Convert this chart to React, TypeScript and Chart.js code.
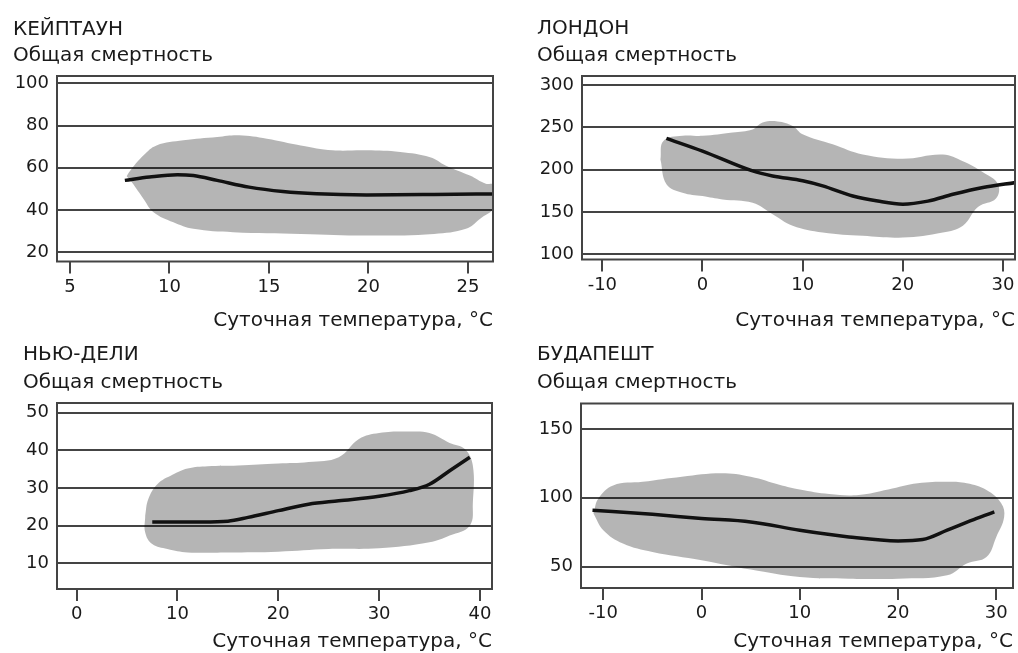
import React, { useEffect, useRef } from "react";
import { Chart, registerables } from "chart.js";

Chart.register(...registerables);

// ---------- texts ----------
const cityNames = ["КЕЙПТАУН", "ЛОНДОН", "НЬЮ-ДЕЛИ", "БУДАПЕШТ"];
const yAxisTitle = "Общая смертность";
const xAxisTitle = "Суточная температура, °C";

// ---------- Cape Town ----------
const capeXTicks = [5, 10, 15, 20, 25];
const capeYTicks = [20, 40, 60, 80, 100];
const capeLineX = [7.76, 9, 10.4, 11.2, 12.4, 14, 15.7, 17.4, 19.9, 23.3, 26.4];
const capeLineY = [54, 55.6, 56.7, 56.3, 54, 50.8, 48.7, 47.6, 47.1, 47.3, 47.6];
const capeCloudX = [7.85, 8.1, 8.7, 9.35, 10.7, 12.4, 13.5, 14.9, 16.6, 18.2, 19.9, 21.6, 23.1, 23.9, 25.1, 25.9, 26.4,
  26.4, 25.6, 24.9, 23.3, 19.9, 16.6, 13.2, 11.2, 10.2, 9.2, 8.7, 8.1, 7.85];
const capeCloudY = [56, 59.5, 65.9, 70.6, 73, 74.6, 75.4, 73.8, 70.6, 68.3, 68.3, 67.5, 65, 61, 56.3, 52.4, 52,
  42, 35.7, 31, 28.6, 27.8, 28.6, 29.4, 31, 34.1, 38.9, 45.2, 53.2, 56];

// ---------- London ----------
const londonXTicks = [-10, 0, 10, 20, 30];
const londonYTicks = [100, 150, 200, 250, 300];
const londonLineX = [-3.6, 0, 5, 7, 10, 12, 15, 17.5, 20, 22.5, 25, 28, 31.3];
const londonLineY = [237, 222, 198.6, 192.7, 187, 181, 169, 163, 159.4, 163, 171, 179, 185];
const londonCloudX = [-4.2, -3.9, -2, 0, 3, 5, 6, 7.5, 9, 10, 13, 16, 20, 24, 26, 28, 29.5,
  29.3, 27.5, 26, 24, 20, 16, 12, 9, 7, 5, 2, 0, -2, -3.6, -4.2];
const londonCloudY = [212, 234, 240, 240, 244, 247.6, 255.6, 257, 251.6, 241.8, 230, 218, 213, 218, 210, 197, 183,
  166, 156, 134, 126, 120, 122, 126, 134, 147.6, 161, 165, 169, 173, 183, 212];

// ---------- New Delhi ----------
const delhiXTicks = [0, 10, 20, 30, 40];
const delhiYTicks = [10, 20, 30, 40, 50];
const delhiLineX = [7.5, 10, 12.5, 15, 17, 20, 23, 26, 30, 33, 35, 37, 39];
const delhiLineY = [21, 21, 21, 21.2, 22.2, 24, 25.7, 26.6, 27.8, 29.3, 31, 34.6, 38.2];
const delhiCloudX = [6.8, 7.1, 8, 9.5, 11, 13, 16, 20, 23, 26, 28, 30, 33, 35, 37, 38.5, 39.3,
  39.3, 39, 37, 35, 30, 25, 20, 15, 11, 9, 7.5, 6.8, 6.8];
const delhiCloudY = [22.7, 27, 31, 33.5, 35.2, 35.8, 36, 36.5, 36.9, 38.2, 43, 44.6, 45, 44.6, 42, 40.4, 36,
  26, 20, 17.4, 15.6, 14, 13.8, 13.1, 12.9, 12.9, 13.8, 15.1, 18.2, 22.7];

// ---------- Budapest ----------
const budaXTicks = [-10, 0, 10, 20, 30];
const budaYTicks = [50, 100, 150];
const budaLineX = [-11.1, -5, 0, 5, 10, 15, 20, 22.5, 25, 28, 29.8];
const budaLineY = [91, 88, 85, 82.5, 76.5, 71.6, 68.7, 69.7, 76.5, 85, 89.8];
const budaCloudX = [-11, -10.5, -9, -6, -2, 2, 5, 8, 10, 13, 16, 19, 22, 25, 27, 29, 30.5, 30.8,
  30, 29, 27, 25, 20, 15, 10, 5, 0, -5, -8, -10, -11];
const budaCloudY = [88.6, 99.5, 109, 111.6, 115.3, 117.8, 115.3, 109.3, 106, 102.7, 102, 106, 110.5, 111.6, 110.5, 105.6, 96, 86,
  71.6, 57, 52.3, 43.7, 41.3, 41.3, 42.5, 47.9, 54.7, 60.7, 66.8, 76.5, 88.6];

// ---------- styles / layout (page pixels) ----------
const TEXT = "#1a1a1a";
const GRID = "#444444";
const CLOUD = "rgba(0,0,0,0.29)";
const LINE = "#111111";
const FONT = "'DejaVu Sans', sans-serif";
const TITLE_SIZE = 20;
const TICK_SIZE = 18;
const XTITLE_SIZE = 20;

type Geo = {
  cl: number; ct: number; titleX: number; titleCY: number; subCY: number;
  pl: number; pt: number; pr: number; pb: number; xTitleCY: number;
  xmin: number; xmax: number; ymin: number; ymax: number;
};

const geos: Geo[] = [
  { cl: 0, ct: 0, titleX: 13, titleCY: 30, subCY: 56, pl: 57, pt: 76, pr: 493, pb: 261.5, xTitleCY: 321,
    xmin: 4.35, xmax: 26.26, ymin: 15.49, ymax: 103.56 },
  { cl: 509, ct: 0, titleX: 537, titleCY: 29, subCY: 56, pl: 582, pt: 76, pr: 1015, pb: 259.5, xTitleCY: 321,
    xmin: -12.03, xmax: 31.2, ymin: 94.1, ymax: 310.6 },
  { cl: 0, ct: 330, titleX: 23, titleCY: 355, subCY: 383, pl: 57, pt: 403, pr: 492, pb: 589, xTitleCY: 641.5,
    xmin: -1.95, xmax: 41.2, ymin: 3.17, ymax: 52.6 },
  { cl: 509, ct: 330, titleX: 537, titleCY: 355, subCY: 383, pl: 581, pt: 403.5, pr: 1013, pb: 588, xTitleCY: 641.5,
    xmin: -12.27, xmax: 31.7, ymin: 34.5, ymax: 168.5 },
];

const zip = (xs: number[], ys: number[]) => xs.map((x, i) => ({ x, y: ys[i] }));

const panelsData = [
  { name: cityNames[0], xTicks: capeXTicks, yTicks: capeYTicks, line: zip(capeLineX, capeLineY), cloud: zip(capeCloudX, capeCloudY) },
  { name: cityNames[1], xTicks: londonXTicks, yTicks: londonYTicks, line: zip(londonLineX, londonLineY), cloud: zip(londonCloudX, londonCloudY) },
  { name: cityNames[2], xTicks: delhiXTicks, yTicks: delhiYTicks, line: zip(delhiLineX, delhiLineY), cloud: zip(delhiCloudX, delhiCloudY) },
  { name: cityNames[3], xTicks: budaXTicks, yTicks: budaYTicks, line: zip(budaLineX, budaLineY), cloud: zip(budaCloudX, budaCloudY) },
];

const boxPlugin = {
  id: "plotBox",
  afterDatasetsDraw(chart: any) {
    const { ctx, chartArea: a } = chart;
    ctx.save();
    ctx.strokeStyle = GRID;
    ctx.lineWidth = 2;
    ctx.strokeRect(a.left, a.top, a.right - a.left, a.bottom - a.top);
    ctx.restore();
  },
};

function Panel({ idx }: { idx: number }) {
  const ref = useRef<HTMLCanvasElement | null>(null);
  const g = geos[idx];
  const d = panelsData[idx];
  const width = 509;
  const tlh = TITLE_SIZE * 1.2;
  const xlh = XTITLE_SIZE * 1.2;
  const height = Math.round(g.xTitleCY + xlh / 2 - g.ct);

  useEffect(() => {
    if (!ref.current) return;
    const chart = new Chart(ref.current, {
      type: "line",
      data: {
        datasets: [
          {
            data: d.line,
            borderColor: LINE,
            borderWidth: 3.5,
            pointRadius: 0,
            fill: false,
            cubicInterpolationMode: "monotone",
            order: 1,
          },
          {
            data: d.cloud,
            borderWidth: 0,
            borderColor: "rgba(0,0,0,0)",
            backgroundColor: CLOUD,
            pointRadius: 0,
            fill: "shape",
            tension: 0.4,
            order: 2,
          },
        ],
      } as any,
      plugins: [boxPlugin],
      options: {
        animation: false,
        responsive: false,
        devicePixelRatio: 1,
        events: [],
        layout: {
          padding: { left: g.titleX - g.cl, right: g.cl + width - g.pr, top: 0, bottom: 0 },
        },
        font: { family: FONT },
        plugins: {
          legend: { display: false },
          tooltip: { enabled: false },
          title: {
            display: true,
            text: d.name,
            align: "start",
            color: TEXT,
            font: { family: FONT, size: TITLE_SIZE, weight: "normal" },
            padding: { top: g.titleCY - g.ct - tlh / 2, bottom: 0 },
          },
          subtitle: {
            display: true,
            text: yAxisTitle,
            align: "start",
            color: TEXT,
            font: { family: FONT, size: TITLE_SIZE, weight: "normal" },
            padding: { top: g.subCY - g.titleCY - tlh, bottom: g.pt - (g.subCY + tlh / 2) },
          },
        },
        scales: {
          x: {
            type: "linear",
            min: g.xmin,
            max: g.xmax,
            afterBuildTicks: (s: any) => { s.ticks = d.xTicks.map((v) => ({ value: v })); },
            afterFit: (s: any) => { s.height = height - (g.pb - g.ct); },
            grid: { drawOnChartArea: false, drawTicks: true, tickLength: 12, color: GRID, lineWidth: 2 },
            border: { display: false },
            ticks: { color: TEXT, font: { family: FONT, size: TICK_SIZE }, padding: 3, maxRotation: 0, autoSkip: false },
            title: {
              display: true,
              text: xAxisTitle,
              align: "end",
              color: TEXT,
              font: { family: FONT, size: XTITLE_SIZE },
              padding: { top: 0, bottom: 0 },
            },
          },
          y: {
            type: "linear",
            min: g.ymin,
            max: g.ymax,
            afterBuildTicks: (s: any) => { s.ticks = d.yTicks.map((v) => ({ value: v })); },
            afterFit: (s: any) => { s.width = g.pl - g.titleX; },
            grid: { drawTicks: false, color: GRID, lineWidth: 2 },
            border: { display: false },
            ticks: { color: TEXT, font: { family: FONT, size: TICK_SIZE }, padding: 8 },
          },
        },
      } as any,
    });
    return () => chart.destroy();
  }, [idx]);

  return (
    <canvas
      ref={ref}
      width={width}
      height={height}
      style={{ position: "absolute", left: g.cl, top: g.ct, width, height }}
    />
  );
}

export default function App() {
  return (
    <div style={{ position: "absolute", left: 0, top: 0, width: 1018, height: 653, background: "#ffffff", overflow: "hidden" }}>
      {[0, 1, 2, 3].map((i) => (
        <Panel key={i} idx={i} />
      ))}
    </div>
  );
}
